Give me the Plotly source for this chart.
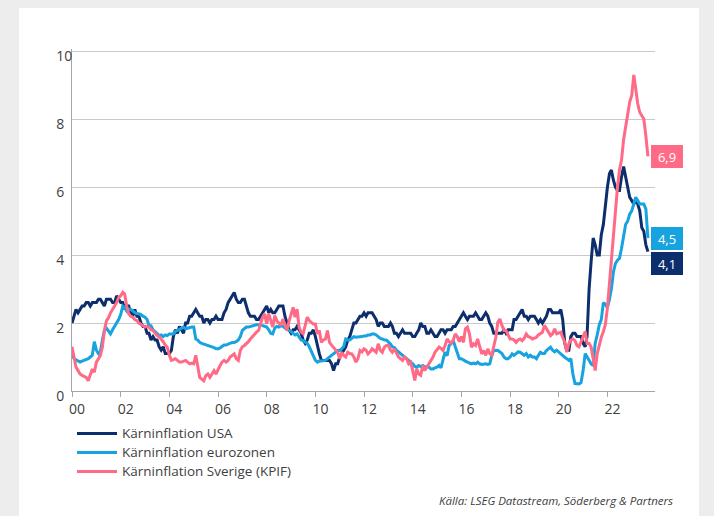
import pandas as pd
import plotly.graph_objects as go

# ---------------- data (monthly, Jan 2000 - Sep 2023) ----------------
start_month = "2000-01-01"

usa = [
    2.0, 2.2, 2.4, 2.3, 2.4, 2.5, 2.5, 2.6, 2.6, 2.5, 2.6, 2.6,
    2.6, 2.7, 2.7, 2.6, 2.5, 2.7, 2.7, 2.7, 2.6, 2.6, 2.8, 2.7,
    2.6, 2.6, 2.4, 2.5, 2.5, 2.3, 2.2, 2.4, 2.2, 2.2, 2.0, 1.9,
    1.9, 1.7, 1.7, 1.5, 1.6, 1.5, 1.5, 1.3, 1.2, 1.3, 1.1, 1.1,
    1.1, 1.2, 1.6, 1.8, 1.7, 1.9, 1.8, 1.7, 2.0, 2.0, 2.2, 2.2,
    2.3, 2.4, 2.3, 2.2, 2.2, 2.0, 2.1, 2.1, 2.0, 2.1, 2.1, 2.2,
    2.1, 2.1, 2.1, 2.3, 2.4, 2.6, 2.7, 2.8, 2.9, 2.7, 2.6, 2.6,
    2.7, 2.7, 2.5, 2.3, 2.2, 2.2, 2.2, 2.1, 2.1, 2.2, 2.3, 2.4,
    2.5, 2.3, 2.4, 2.3, 2.3, 2.4, 2.5, 2.5, 2.5, 2.2, 2.0, 1.8,
    1.7, 1.8, 1.8, 1.9, 1.8, 1.7, 1.5, 1.4, 1.5, 1.7, 1.7, 1.8,
    1.6, 1.3, 1.1, 0.9, 0.9, 0.9, 0.9, 0.9, 0.8, 0.6, 0.8, 0.8,
    1.0, 1.1, 1.2, 1.3, 1.5, 1.6, 1.8, 2.0, 2.0, 2.1, 2.2, 2.2,
    2.3, 2.2, 2.3, 2.3, 2.3, 2.2, 2.1, 1.9, 2.0, 2.0, 1.9, 1.9,
    1.9, 2.0, 1.9, 1.7, 1.7, 1.6, 1.7, 1.8, 1.7, 1.7, 1.7, 1.7,
    1.6, 1.6, 1.7, 1.8, 2.0, 1.9, 1.9, 1.7, 1.7, 1.8, 1.7, 1.6,
    1.6, 1.7, 1.8, 1.8, 1.7, 1.8, 1.8, 1.8, 1.9, 1.9, 2.0, 2.1,
    2.2, 2.3, 2.2, 2.1, 2.2, 2.2, 2.2, 2.3, 2.2, 2.1, 2.1, 2.2,
    2.3, 2.2, 2.0, 1.9, 1.7, 1.7, 1.7, 1.7, 1.7, 1.8, 1.7, 1.8,
    1.8, 1.8, 2.1, 2.1, 2.2, 2.3, 2.4, 2.2, 2.2, 2.1, 2.2, 2.2,
    2.2, 2.1, 2.0, 2.1, 2.0, 2.1, 2.2, 2.4, 2.4, 2.3, 2.3, 2.3,
    2.3, 2.4, 2.1, 1.4, 1.2, 1.2, 1.6, 1.7, 1.7, 1.6, 1.6, 1.6,
    1.4, 1.3, 1.6, 3.0, 3.8, 4.5, 4.3, 4.0, 4.0, 4.6, 4.9, 5.5,
    6.0, 6.4, 6.5, 6.2, 6.0, 5.9, 5.9, 6.3, 6.6, 6.3, 6.0, 5.7,
    5.6, 5.5, 5.6, 5.5, 5.3, 4.8, 4.7, 4.3, 4.1,
]

euro = [
    1.1, 0.95, 0.92, 0.88, 0.85, 0.88, 0.9, 0.92, 0.95, 1.0, 1.05, 1.45,
    1.2, 1.1, 1.15, 1.5, 1.78, 1.85, 1.75, 1.68, 1.8, 1.9, 2.0, 2.1,
    2.25, 2.5, 2.45, 2.35, 2.41, 2.4, 2.35, 2.3, 2.27, 2.27, 2.25, 2.2,
    2.17, 2.1, 1.92, 1.92, 1.8, 1.75, 1.68, 1.63, 1.65, 1.6, 1.65, 1.63,
    1.68, 1.68, 1.68, 1.75, 1.78, 1.8, 1.85, 1.88, 1.83, 1.85, 1.88, 1.88,
    1.88, 1.53, 1.5, 1.43, 1.4, 1.38, 1.38, 1.35, 1.33, 1.3, 1.28, 1.24,
    1.24, 1.27, 1.3, 1.35, 1.35, 1.38, 1.4, 1.43, 1.43, 1.45, 1.5, 1.6,
    1.78, 1.85, 1.88, 1.88, 1.9, 1.92, 1.95, 1.95, 1.95, 1.95, 1.92, 1.9,
    1.88, 1.8, 1.7, 1.68, 1.85, 1.9, 1.88, 1.92, 1.9, 1.85, 1.8, 1.78,
    1.75, 1.7, 1.65, 1.68, 1.6, 1.5, 1.48, 1.45, 1.4, 1.3, 1.15, 1.04,
    0.9, 0.85, 0.88, 0.88, 0.9, 0.9, 0.95, 1.0, 1.05, 1.1, 1.15, 1.19,
    1.19, 1.25, 1.3, 1.53, 1.5, 1.5, 1.55, 1.6, 1.58, 1.58, 1.6, 1.6,
    1.62, 1.62, 1.65, 1.65, 1.68, 1.68, 1.65, 1.6, 1.55, 1.53, 1.5, 1.5,
    1.45, 1.38, 1.3, 1.28, 1.2, 1.15, 1.1, 1.04, 1.0, 0.95, 0.9, 0.85,
    0.8, 0.72, 0.7, 0.75, 0.72, 0.75, 0.7, 0.72, 0.7, 0.65, 0.65, 0.68,
    0.7, 0.75, 0.68, 0.92, 1.14, 1.04, 1.34, 1.4, 1.48, 1.3, 1.09, 0.95,
    0.95, 0.9, 0.88, 0.85, 0.82, 0.8, 0.82, 0.8, 0.85, 0.8, 0.78, 0.8,
    0.8, 0.78, 0.8, 1.04, 1.19, 1.2, 1.19, 1.15, 1.1, 1.0, 0.95, 0.95,
    1.0, 1.09, 1.05, 1.1, 1.15, 1.14, 1.1, 1.05, 1.1, 1.0, 1.05, 1.0,
    1.0, 0.95, 1.05, 1.14, 1.1, 1.1, 1.19, 1.25, 1.29, 1.2, 1.15, 1.2,
    1.14, 1.1, 1.05, 0.99, 0.95, 0.9, 0.95, 0.5, 0.22, 0.21, 0.21, 0.25,
    0.6, 1.1, 1.0, 0.9, 0.8, 0.75, 1.4, 1.65, 1.95, 2.1, 2.6, 2.55,
    2.45, 2.7, 3.0, 3.5, 3.75, 3.85, 3.9, 4.2, 4.5, 4.9, 5.0, 5.2,
    5.3, 5.5, 5.7, 5.6, 5.5, 5.5, 5.5, 5.35, 4.5,
]

sweden = [
    1.3, 0.95, 0.7, 0.6, 0.5, 0.46, 0.42, 0.4, 0.3, 0.46, 0.65, 0.55,
    0.85, 0.95, 1.04, 1.29, 1.78, 2.07, 2.15, 2.3, 2.4, 2.5, 2.6, 2.75,
    2.8, 2.9, 2.85, 2.5, 2.27, 2.2, 2.17, 2.1, 2.07, 2.0, 1.97, 1.92,
    1.88, 1.9, 1.88, 1.8, 1.78, 1.7, 1.63, 1.6, 1.53, 1.45, 1.35, 1.29,
    1.05, 0.9, 0.92, 0.95, 0.9, 0.85, 0.85, 0.88, 0.9, 0.85, 0.8, 0.82,
    0.8, 1.05, 0.7, 0.4, 0.35, 0.3, 0.45, 0.5, 0.4, 0.5, 0.6, 0.5,
    0.65, 0.75, 0.85, 0.9, 0.85, 0.9, 1.0, 1.05, 1.09, 0.95, 0.9, 1.19,
    1.3, 1.34, 1.39, 1.45, 1.53, 1.6, 1.68, 1.73, 1.78, 2.0, 2.17, 2.27,
    1.97, 2.27, 2.1, 1.88, 2.22, 2.07, 2.0, 1.93, 2.12, 1.95, 1.78, 2.05,
    2.3, 2.46, 2.17, 2.41, 1.88, 1.73, 1.68, 1.9, 2.17, 2.07, 2.02, 1.97,
    1.97, 1.68, 1.78, 1.43, 1.5, 1.53, 1.78, 1.43, 1.35, 1.29, 1.2, 1.14,
    0.95, 1.14, 1.05, 1.0, 1.14, 1.1, 1.09, 1.0, 0.85, 0.95, 1.19, 1.15,
    1.24, 1.2, 1.09, 1.15, 1.24, 1.2, 1.14, 1.39, 1.2, 1.14, 1.29, 1.34,
    1.34, 1.2, 1.14, 1.24, 1.1, 1.0, 0.95, 0.9, 1.0, 0.95, 0.8, 0.85,
    0.6, 0.31, 0.65, 0.5, 0.46, 0.75, 0.6, 0.7, 0.8, 0.9, 1.0, 1.14,
    1.2, 1.29, 1.25, 1.19, 1.34, 1.53, 1.45, 1.4, 1.5, 1.68, 1.6, 1.45,
    1.6, 1.43, 1.83, 1.88, 1.68, 1.29, 1.39, 1.34, 1.53, 1.29, 1.09, 1.19,
    1.05, 1.24, 1.1, 1.05, 1.34, 1.58, 2.02, 2.12, 1.93, 1.78, 1.78, 1.63,
    1.53, 1.53, 1.5, 1.43, 1.5, 1.53, 1.48, 1.55, 1.68, 1.6, 1.58, 1.53,
    1.55, 1.58, 1.65, 1.68, 1.73, 1.93, 1.83, 1.7, 1.63, 1.68, 1.83, 1.68,
    1.7, 1.73, 1.58, 1.43, 1.14, 1.39, 1.5, 1.53, 1.48, 1.34, 1.3, 1.43,
    1.6, 1.75, 1.4, 1.4, 1.3, 1.0, 0.6, 1.1, 1.39, 1.58, 1.75, 1.95,
    2.45, 3.2, 3.9, 4.5, 5.2, 6.0, 6.5, 6.8, 7.4, 7.8, 8.1, 8.5,
    8.7, 9.3, 8.9, 8.45, 8.2, 8.1, 8.0, 7.5, 6.9,
]

series_names = ["Kärninflation USA", "Kärninflation eurozonen",
                "Kärninflation Sverige (KPIF)"]
series_colors = ["#0d2e6c", "#17a3df", "#ff6a86"]

tick_years = [2000, 2002, 2004, 2006, 2008, 2010, 2012, 2014, 2016, 2018, 2020, 2022]
tick_labels = ["00", "02", "04", "06", "08", "10", "12", "14", "16", "18", "20", "22"]
y_ticks = [0, 2, 4, 6, 8, 10]
source_text = "Källa: LSEG Datastream, Söderberg & Partners"

# ---------------- figure ----------------
dates = pd.date_range(start_month, periods=len(usa), freq="MS")
FONT = "Open Sans"
TXT = "#404040"

# plot area in pixels
L, R, T, B = 72, 655, 49, 391
PW, PH = R - L, B - T

def px_x(X):
    return (X - L) / PW

def px_y(Y):
    return (B - Y) / PH

fig = go.Figure()
for name, vals, col in zip(series_names, [usa, euro, sweden], series_colors):
    fig.add_trace(go.Scatter(
        x=dates, y=vals, mode="lines",
        name=f"<span style='font-size:13.5px'>{name}</span>",
        line=dict(color=col, width=3)))

# end-value boxes
end_shift = [-11.5, 0, 0]
for vals, col, ys in zip([usa, euro, sweden], series_colors, end_shift):
    fig.add_annotation(
        xref="paper", yref="y", x=px_x(651), y=vals[-1],
        xanchor="left", yanchor="middle", yshift=ys,
        text=f"{vals[-1]:.1f}".replace(".", ","), showarrow=False,
        bgcolor=col, width=30, height=21, borderpad=1, borderwidth=0,
        font=dict(family=FONT, size=13, color="white"), align="center")

fig.add_annotation(
    xref="paper", yref="paper", x=px_x(675), y=px_y(500),
    xanchor="right", yanchor="middle", showarrow=False,
    text=f"<i>{source_text}</i>", font=dict(family=FONT, size=11.5, color=TXT))

# white card
fig.add_shape(type="rect", xref="paper", yref="paper", layer="below",
              x0=px_x(19), x1=px_x(699), y0=px_y(530), y1=px_y(8),
              fillcolor="white", line=dict(width=0))

fig.update_layout(
    width=714, height=516,
    margin=dict(l=L, r=714 - R, t=T, b=516 - B),
    paper_bgcolor="#eeeded", plot_bgcolor="rgba(0,0,0,0)",
    font=dict(family=FONT, size=13, color=TXT),
    showlegend=True,
    legend=dict(x=0, xanchor="left", y=px_y(419), yanchor="top",
                bgcolor="rgba(0,0,0,0)", itemwidth=40, tracegroupgap=0,
                font=dict(family=FONT, size=12, color=TXT)),
    xaxis=dict(type="date", range=[dates[0], "2023-12-16"],
               tickvals=[f"{y}-01-01" for y in tick_years], ticktext=tick_labels,
               ticks="outside", ticklen=5, tickcolor="#a6a6a6",
               showline=True, linecolor="#a6a6a6", showgrid=False, zeroline=False,
               tickfont=dict(family=FONT, size=14, color=TXT), ticklabelshift=5),
    yaxis=dict(range=[0, 10.06], tickvals=y_ticks,
               ticktext=[str(v) if v >= 10 else f"{v}\u2007" for v in y_ticks],
               ticks="", showline=True, linecolor="#a6a6a6",
               showgrid=True, gridcolor="#c9c9c9", gridwidth=1, zeroline=False,
               tickfont=dict(family=FONT, size=14, color=TXT),
               ticklabelshift=5, ticklabelstandoff=-4),
)

fig.write_html("out.html",
               config={"displayModeBar": False},
               post_script="document.body.style.margin='0';"
                           "document.body.style.background='#eeeded';")
